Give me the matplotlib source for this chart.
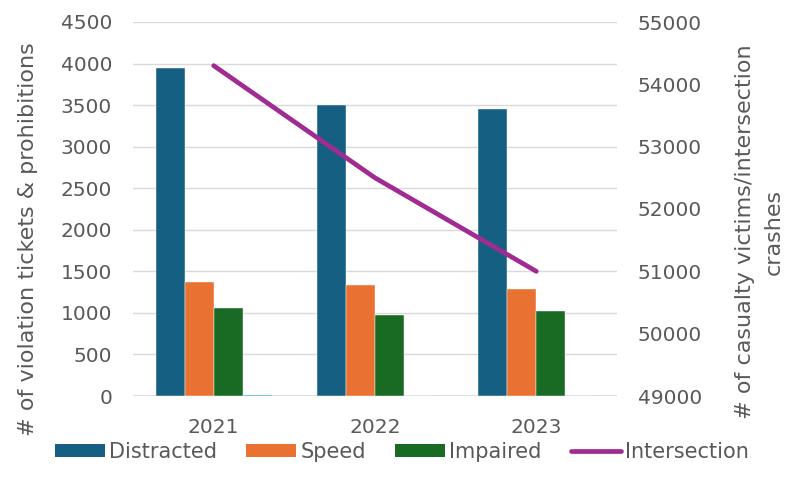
import matplotlib
matplotlib.use("Agg")
import matplotlib.pyplot as plt
import numpy as np
from matplotlib.patches import Patch
from matplotlib.lines import Line2D

# Yearly enforcement counts and intersection crash casualties
years = ["2021", "2022", "2023"]
distracted = [3950, 3500, 3450]
speed = [1370, 1335, 1285]
impaired = [1060, 980, 1020]
other = [10, 0, 0]
intersection = [54300, 52500, 51000]

C_DIST = "#156082"
C_SPEED = "#E97132"
C_IMP = "#196B24"
C_OTHER = "#0F9ED5"
C_INT = "#A02B93"
TXT = "#595959"
GRID = "#D9D9D9"

plt.rcParams["font.family"] = ["DejaVu Sans"]

fig = plt.figure(figsize=(8.01, 4.91), dpi=100)
ax = fig.add_axes([133 / 801, 1 - 396 / 491, (617 - 133) / 801, (396 - 22) / 491])
ax2 = ax.twinx()

x = np.arange(len(years))
w = 0.18
series = [(distracted, C_DIST), (speed, C_SPEED), (impaired, C_IMP), (other, C_OTHER)]
for i, (vals, col) in enumerate(series):
    ax.bar(x + (i - 1.5) * w, vals, width=w, color=col, edgecolor="white",
           linewidth=0.3, zorder=3)

ax2.plot(x, intersection, color=C_INT, linewidth=3.4, solid_capstyle="round",
         solid_joinstyle="round", zorder=4)

ax.set_xlim(-0.5, 2.5)
ax.set_ylim(0, 4500)
ax.set_yticks(np.arange(0, 4501, 500))
ax2.set_ylim(49000, 55000)
ax2.set_yticks(np.arange(49000, 55001, 1000))
ax.set_xticks(x)
ax.set_xticklabels(years)

ax.grid(axis="y", color=GRID, linewidth=1.0, zorder=0)
ax.set_axisbelow(True)
for a in (ax, ax2):
    for s in ("top", "right", "left", "bottom"):
        a.spines[s].set_visible(False)
ax.axhline(0, color=GRID, linewidth=1.2, zorder=2)

ax.tick_params(axis="both", length=0, labelsize=14.5, colors=TXT)
ax.tick_params(axis="y", pad=15)
ax.tick_params(axis="x", pad=16)
ax2.tick_params(axis="y", length=0, labelsize=14.5, colors=TXT, pad=15)

ax.set_ylabel("# of violation tickets & prohibitions", fontsize=16, color=TXT)
ax.yaxis.set_label_coords(-0.196, 0.42)
ax2.set_ylabel("# of casualty victims/intersection\ncrashes", fontsize=16,
               color=TXT, rotation=90, linespacing=1.6)
ax2.yaxis.set_label_coords(1.243, 0.44)

handles = [
    Patch(facecolor=C_DIST, label="Distracted"),
    Patch(facecolor=C_SPEED, label="Speed"),
    Patch(facecolor=C_IMP, label="Impaired"),
    Line2D([0], [0], color=C_INT, linewidth=3.4, solid_capstyle="round",
           label="Intersection"),
]
leg = fig.legend(handles=handles, loc="center", bbox_to_anchor=(402 / 801, 1 - 452 / 491),
                 ncol=4, frameon=False, fontsize=15, handlelength=2.4,
                 handleheight=0.6, handletextpad=0.2, columnspacing=1.4)
for t in leg.get_texts():
    t.set_color(TXT)

fig.savefig("out.png", dpi=100)
